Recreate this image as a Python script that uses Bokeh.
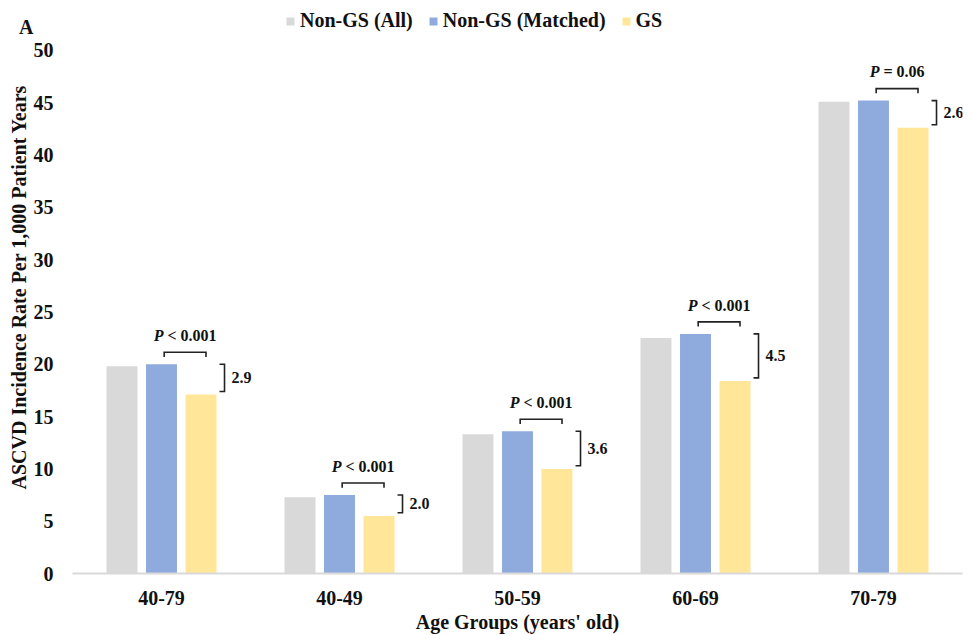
import numpy as np
from bokeh.plotting import figure
from bokeh.models import (ColumnDataSource, FactorRange, Range1d, Legend, LegendItem,
                          FixedTicker)
from bokeh.core.properties import value
from bokeh.embed import file_html
from bokeh.resources import INLINE

# ---------------- data ----------------
groups = ["40-79", "40-49", "50-59", "60-69", "70-79"]
series = ["Non-GS (All)", "Non-GS (Matched)", "GS"]
non_gs_all = [19.8, 7.3, 13.3, 22.5, 45.1]
non_gs_matched = [20.0, 7.5, 13.6, 22.9, 45.2]
gs = [17.1, 5.5, 10.0, 18.4, 42.6]
p_labels = ["< 0.001", "< 0.001", "< 0.001", "< 0.001", "= 0.06"]
diff_labels = ["2.9", "2.0", "3.6", "4.5", "2.6"]
y_ticks = [0, 5, 10, 15, 20, 25, 30, 35, 40, 45, 50]
panel_letter = "A"

# ---------------- style ----------------
colors = ["#D9D9D9", "#8FAADC", "#FFE699"]
SERIF = "Liberation Serif"
INK = "#111111"
BRK = "#222222"
Y_TOP = 54.77          # plot area extends above 50 to hold the legend
A_POS = 52.2           # vertical position of the panel letter

p = figure(width=972, height=635, x_range=FactorRange(*groups), y_range=Range1d(0, Y_TOP),
           output_backend="svg", toolbar_location=None,
           min_border_left=72, min_border_right=10, min_border_top=0, min_border_bottom=61)

xc = np.arange(len(groups)) + 0.5
offsets = [-0.222, 0.0, 0.222]
vals = [non_gs_all, non_gs_matched, gs]
items = []
for s, off, v, c in zip(series, offsets, vals, colors):
    src = ColumnDataSource(dict(x=xc + off, top=v))
    r = p.vbar(x="x", top="top", width=0.174, source=src, fill_color=c, line_color=None)
    items.append(LegendItem(label=s, renderers=[r]))

blue = np.array(non_gs_matched)
yel = np.array(gs)

# top brackets (P values)
h = blue + 1.15
tick = 0.45
bl = xc + 0.015
br = xc + 0.25
xs_top = [[a, a, b, b] for a, b in zip(bl, br)]
ys_top = [[y - tick, y, y, y - tick] for y in h]
p.multi_line(xs=xs_top, ys=ys_top, line_color=BRK, line_width=1.6, line_join="miter")

# right brackets (differences)
rx = xc + 0.354
tl = 0.028
top = blue
bot = yel + 0.3
xs_r = [[x - tl, x, x, x - tl] for x in rx]
ys_r = [[t, t, b, b] for t, b in zip(top, bot)]
p.multi_line(xs=xs_r, ys=ys_r, line_color=BRK, line_width=1.6, line_join="miter")

# P labels: italic P + rest
fs = 16
w_bold = {' ': 250, '<': 570, '=': 570, '.': 250}
for d in "0123456789":
    w_bold[d] = 500
wP = 611 * fs / 1000
wS = 250 * fs / 1000
w_rest = [sum(w_bold.get(ch, 500) for ch in t) * fs / 1000 for t in p_labels]
tot = [wP + wS + w for w in w_rest]
pc = (bl + br) / 2
py = blue + 2.75
src_p = ColumnDataSource(dict(x=pc, y=py, t=p_labels,
                              o1=[-t / 2 for t in tot], o2=[-t / 2 + wP + wS for t in tot],
                              P=["P"] * len(groups)))
p.text(x="x", y="y", text="P", x_offset="o1", source=src_p, text_font=value(SERIF),
       text_font_style="bold italic", text_font_size=f"{fs}px", text_baseline="middle",
       text_align="left", text_color=INK)
p.text(x="x", y="y", text="t", x_offset="o2", source=src_p, text_font=value(SERIF),
       text_font_style="bold", text_font_size=f"{fs}px", text_baseline="middle",
       text_align="left", text_color=INK)

# difference labels
src_d = ColumnDataSource(dict(x=rx, y=(top + bot) / 2, t=diff_labels))
p.text(x="x", y="y", text="t", x_offset=7, source=src_d, text_font=value(SERIF),
       text_font_style="bold", text_font_size=f"{fs}px", text_baseline="middle",
       text_align="left", text_color=INK)

# legend (inside the extended plot area, above the bars)
legend = Legend(items=items, orientation="horizontal", location=(213, 541),
                glyph_width=10, glyph_height=10, label_standoff=5, spacing=15,
                label_text_font=SERIF, label_text_font_style="bold",
                label_text_font_size="20px", label_text_color=INK,
                padding=0, margin=0, border_line_alpha=0, background_fill_alpha=0)
p.add_layout(legend, "center")

# axes
p.yaxis.ticker = FixedTicker(ticks=y_ticks + [A_POS])
p.yaxis.major_label_overrides = {A_POS: panel_letter + "\u00a0" * 4}
p.yaxis.axis_line_color = None
p.yaxis.major_tick_line_color = None
p.yaxis.minor_tick_line_color = None
p.yaxis.major_tick_out = 0
p.yaxis.major_label_standoff = 19
p.yaxis.axis_label = "ASCVD Incidence Rate Per 1,000 Patient Years"
p.yaxis.axis_label_standoff = -14

p.xaxis.axis_line_color = "#D9D9D9"
p.xaxis.axis_line_width = 2
p.xaxis.major_tick_line_color = None
p.xaxis.minor_tick_line_color = None
p.xaxis.major_tick_out = 0
p.xaxis.major_label_standoff = 17
p.xaxis.axis_label = "Age Groups (years' old)"
p.xaxis.axis_label_standoff = 3

for ax in (p.xaxis, p.yaxis):
    ax.major_label_text_font = SERIF
    ax.major_label_text_font_style = "bold"
    ax.major_label_text_font_size = "20px"
    ax.major_label_text_color = INK
    ax.axis_label_text_font = SERIF
    ax.axis_label_text_font_style = "bold"
    ax.axis_label_text_font_size = "20px"
    ax.axis_label_text_color = INK

p.xgrid.grid_line_color = None
p.ygrid.grid_line_color = None
p.outline_line_color = None

open("out.html", "w").write(file_html(p, INLINE))
